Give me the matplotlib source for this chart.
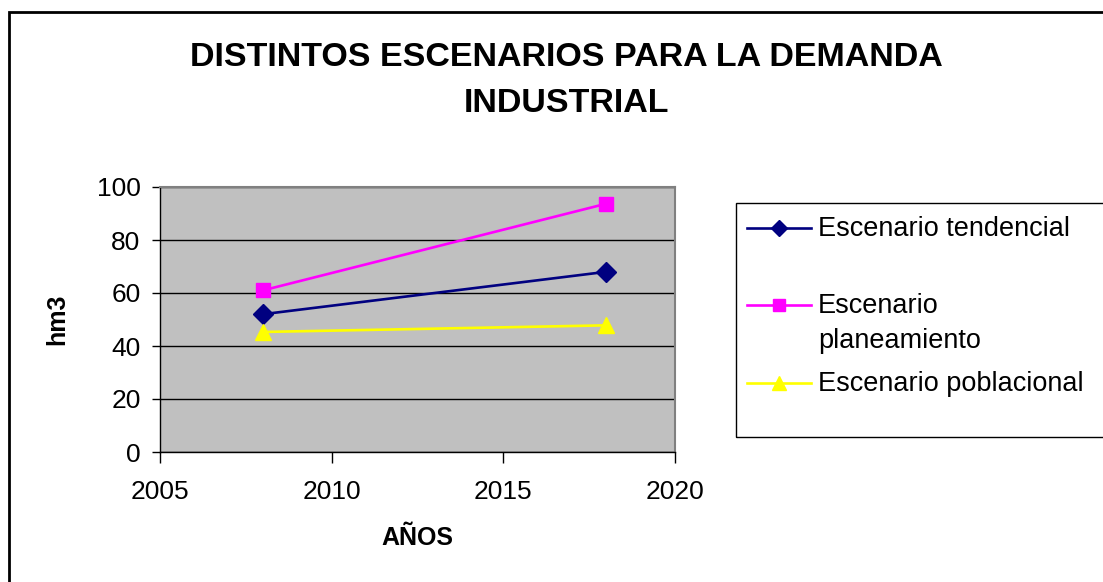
import matplotlib.pyplot as plt
from matplotlib.lines import Line2D
from matplotlib.patches import Rectangle

plt.rcParams['font.family'] = ['Liberation Sans', 'DejaVu Sans']

# datos
anios = [2008, 2018]
tendencial = [52, 68]
planeamiento = [61, 93.7]
poblacional = [45.3, 47.8]
nombres = ['Escenario tendencial', 'Escenario\nplaneamiento', 'Escenario poblacional']
y_ticks = [0, 20, 40, 60, 80, 100]
x_ticks = [2005, 2010, 2015, 2020]

W, H = 1103, 582
fig = plt.figure(figsize=(W / 100, H / 100), dpi=100)

# marco exterior del grafico (se sale por la derecha y abajo)
fig.add_artist(Rectangle((9 / W, -0.05), 1.2, 1 - 12 / H + 0.05, transform=fig.transFigure,
                         fill=False, edgecolor='black', linewidth=2))

ax = fig.add_axes([160 / W, 1 - 452 / H, (675 - 160) / W, (452 - 187) / H])
ax.set_facecolor('#C0C0C0')

estilos = [
    (tendencial, '#000080', 'D', 10),
    (planeamiento, '#FF00FF', 's', 9.5),
    (poblacional, '#FFFF00', '^', 12),
]
for serie, color, marca, ms in estilos:
    ax.plot(anios, serie, color=color, marker=marca, markersize=ms, linewidth=1.9, zorder=3)

ax.set_xlim(2005, 2020)
ax.set_ylim(0, 100)
ax.set_xticks(x_ticks)
ax.set_yticks(y_ticks)
ax.grid(axis='y', color='black', linewidth=1)
ax.set_axisbelow(True)

for lado in ['top', 'right']:
    ax.spines[lado].set_color('#808080')
    ax.spines[lado].set_linewidth(1.5)
for lado in ['left', 'bottom']:
    ax.spines[lado].set_color('black')
    ax.spines[lado].set_linewidth(1)

ax.tick_params(axis='y', direction='out', length=6, width=1, labelsize=19, pad=8)
ax.tick_params(axis='x', direction='out', length=8, width=1, labelsize=19, pad=12)

ax.set_xlabel('AÑOS', fontsize=18, fontweight='bold', labelpad=16)
ax.set_ylabel('hm3', fontsize=18, fontweight='bold', labelpad=20)

fig.text(566 / W, 1 - 58 / H, 'DISTINTOS ESCENARIOS PARA LA DEMANDA', ha='center', va='center',
         fontsize=24.5, fontweight='bold')
fig.text(566 / W, 1 - 104 / H, 'INDUSTRIAL', ha='center', va='center',
         fontsize=24.5, fontweight='bold')

# leyenda dibujada a mano
fig.add_artist(Rectangle((736 / W, 1 - 437 / H), 1.0, (437 - 203) / H, transform=fig.transFigure,
                         fill=False, edgecolor='black', linewidth=1))
ys_leyenda = [228, 305, 383]
for (serie, color, marca, ms), nombre, yl in zip(estilos, nombres, ys_leyenda):
    yf = 1 - yl / H
    fig.add_artist(Line2D([747 / W, 811 / W], [yf, yf], transform=fig.transFigure,
                          color=color, linewidth=1.9))
    fig.add_artist(Line2D([779 / W], [yf], transform=fig.transFigure, color=color,
                          marker=marca, markersize=ms * 0.85, linestyle='none'))
    for i, linea in enumerate(nombre.split('\n')):
        fig.text(818 / W, 1 - (yl + 1 + i * 35) / H, linea, ha='left', va='center',
                 fontsize=19.5)

fig.savefig('out.png', dpi=100, facecolor='white')
